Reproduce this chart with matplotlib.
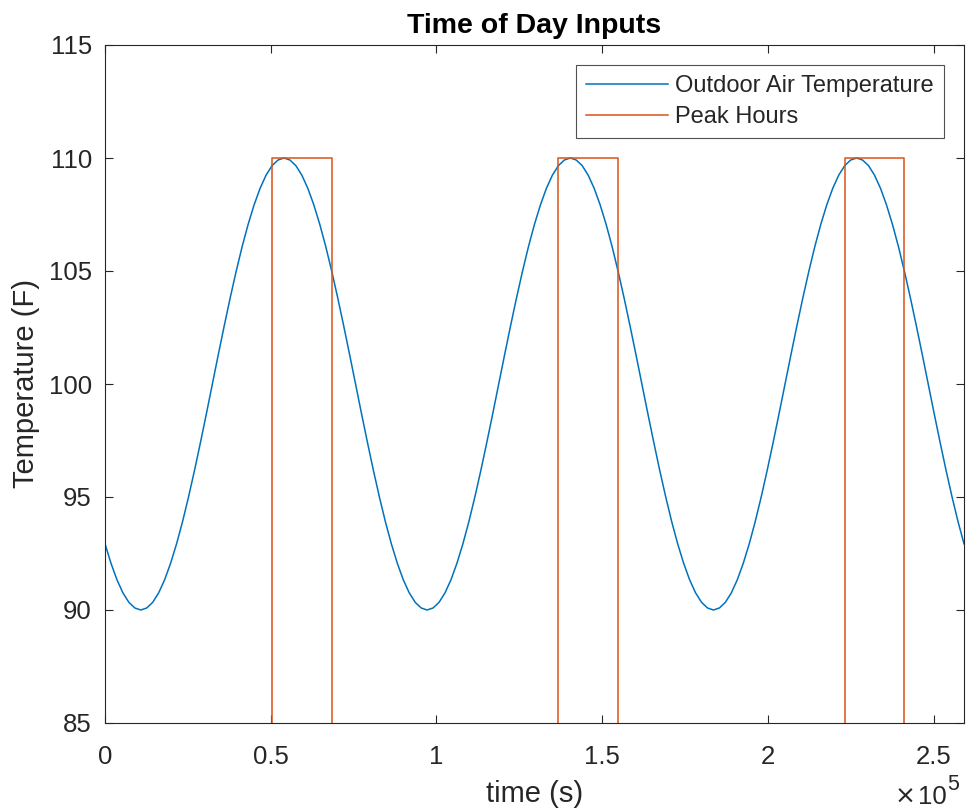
import numpy as np
import matplotlib
matplotlib.use("Agg")
import matplotlib.pyplot as plt
from matplotlib.ticker import FuncFormatter, MultipleLocator

# Outdoor air temperature (F), sampled every 30 minutes over one day, starting at midnight
day_temperature = [
    92.93, 92.07, 91.34, 90.76, 90.34, 90.09, 90.00, 90.09,
    90.34, 90.76, 91.34, 92.07, 92.93, 93.91, 95.00, 96.17,
    97.41, 98.69, 100.00, 101.31, 102.59, 103.83, 105.00, 106.09,
    107.07, 107.93, 108.66, 109.24, 109.66, 109.91, 110.00, 109.91,
    109.66, 109.24, 108.66, 107.93, 107.07, 106.09, 105.00, 103.83,
    102.59, 101.31, 100.00, 98.69, 97.41, 96.17, 95.00, 93.91,
]
sample_step_s = 1800
n_days = 3

# Peak-hour signal: switching instants (s) and level held from each instant onward
peak_times = [0, 50400, 68400, 136800, 154800, 223200, 241200, 259200]
peak_values = [0, 110, 0, 110, 0, 110, 0, 0]

temperature = list(day_temperature) * n_days + [day_temperature[0]]
time_s = np.arange(len(temperature)) * sample_step_s

W, H = 967, 809
fig = plt.figure(figsize=(W / 100, H / 100), dpi=100)
plt.rcParams["font.family"] = ["Liberation Sans", "DejaVu Sans"]
ax = fig.add_axes([105 / W, (H - 723) / H, (964 - 105) / W, (723 - 45) / H])

blue = "#0072BD"
orange = "#D95319"
ink = "#262626"

ax.plot(time_s, temperature, color=blue, lw=1.1, label="Outdoor Air Temperature")
ax.plot(peak_times, peak_values, color=orange, lw=1.1, drawstyle="steps-post",
        label="Peak Hours")

ax.set_xlim(0, time_s[-1])
ax.set_ylim(85, 115)
ax.xaxis.set_major_locator(MultipleLocator(50000))
ax.yaxis.set_major_locator(MultipleLocator(5))
ax.xaxis.set_major_formatter(FuncFormatter(lambda v, p: f"{v / 1e5:g}"))
ax.yaxis.set_major_formatter(FuncFormatter(lambda v, p: f"{v:g}"))

for s in ax.spines.values():
    s.set_color(ink)
    s.set_linewidth(0.8)
ax.tick_params(direction="in", length=6, width=0.8, colors=ink, labelsize=18.5,
               top=True, right=True)
ax.tick_params(axis="x", pad=15.5)
ax.tick_params(axis="y", pad=9.5)

ax.set_xlabel("time (s)", fontsize=21, color=ink, labelpad=8)
ax.set_ylabel("Temperature (F)", fontsize=21, color=ink, labelpad=6)
ax.set_title("Time of Day Inputs", fontsize=20.5, fontweight="bold", color="black", pad=8.5)

# exponent of the x-axis scale, bottom right under the tick labels
fig.text(916 / W, (H - 804) / H, "\u00d7", ha="right", va="baseline", fontsize=18,
         color=ink, family="DejaVu Sans")
fig.text(947 / W, (H - 804) / H, "10", ha="right", va="baseline", fontsize=18.5, color=ink)
fig.text(947.5 / W, (H - 790) / H, "5", ha="left", va="baseline", fontsize=15.5, color=ink)

leg = ax.legend(loc="upper right", fontsize=17, frameon=True, fancybox=False,
                edgecolor=ink, handlelength=3.5, borderpad=0.42, labelspacing=0.38,
                handletextpad=0.3, borderaxespad=0.85)
leg.get_frame().set_linewidth(0.8)
for t in leg.get_texts():
    t.set_color(ink)

fig.savefig("out.png", dpi=100, facecolor="white")
